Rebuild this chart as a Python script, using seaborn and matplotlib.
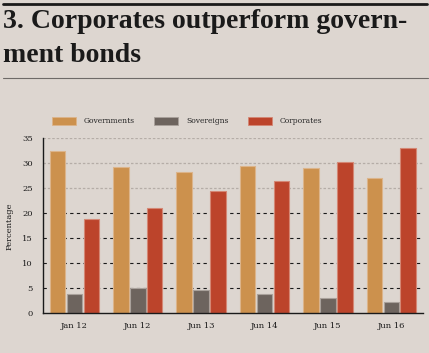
import numpy as np
import pandas as pd
import matplotlib
matplotlib.use("Agg")
import matplotlib.pyplot as plt
import seaborn as sns
from matplotlib.lines import Line2D

periods = ["Jan 12", "Jun 12", "Jun 13", "Jun 14", "Jun 15", "Jun 16"]
governments = [32.5, 29.3, 28.2, 29.5, 29.0, 27.1]
sovereigns = [3.9, 5.1, 4.6, 3.8, 3.1, 2.3]
corporates = [18.8, 21.1, 24.5, 26.5, 30.3, 33.0]
series = ["Governments", "Sovereigns", "Corporates"]

bg = "#ddd6d0"
palette = {"Governments": "#cc914d", "Sovereigns": "#6d645e", "Corporates": "#bc442b"}
edges = {"Governments": "#dcb48a", "Sovereigns": "#a9a19b", "Corporates": "#d48774"}

df = pd.DataFrame({
    "period": periods * 3,
    "value": governments + sovereigns + corporates,
    "series": [s for s in series for _ in periods],
})

sns.set_style("white")
plt.rcParams["font.family"] = ["DejaVu Serif"]

fig = plt.figure(figsize=(4.29, 3.53), dpi=100, facecolor=bg)
ax = fig.add_axes([0.0995, 0.1124, 0.8865, 0.4958])
ax.set_facecolor(bg)

sns.barplot(data=df, x="period", y="value", hue="series", palette=palette,
            order=periods, hue_order=series, width=0.8, gap=0.08, ax=ax,
            legend=False, linewidth=0.8, saturation=1)
for cont, s in zip(ax.containers, series):
    for bar in cont:
        bar.set_edgecolor(edges[s])

ax.set_xlim(-0.5, 5.5)
ax.set_ylim(0, 35)
ax.set_yticks(range(0, 36, 5))
for y in [25, 30, 35]:
    ax.axhline(y, color="#b5ada7", lw=0.9, ls=(0, (2, 1.5)), zorder=0)
for y in [5, 10, 15, 20]:
    ax.axhline(y, color="#1a1a1a", lw=0.8, ls=(0, (3, 3)), zorder=0)

for sp in ["top", "right"]:
    ax.spines[sp].set_visible(False)
for sp in ["left", "bottom"]:
    ax.spines[sp].set_color("#1a1a1a")
    ax.spines[sp].set_linewidth(1.0)
ax.tick_params(axis="both", length=0, labelsize=6, colors="#1a1a1a", pad=6)
ax.tick_params(axis="y", pad=7)
ax.set_xlabel("")
ax.set_ylabel("Percentage", fontsize=6, color="#1a1a1a", labelpad=6)

handles = [plt.Rectangle((0, 0), 1, 1, facecolor=palette[s], edgecolor=edges[s], lw=0.6)
           for s in series]
fig.legend(handles, series, ncol=3, frameon=False, fontsize=5.5,
           loc="center left", bbox_to_anchor=(0.105, 0.657),
           handlelength=3.1, handleheight=1.3, columnspacing=2.5, handletextpad=1.1)

fig.text(3 / 429, 1 - 28 / 353, "3. Corporates outperform govern-",
         fontsize=20, fontweight="bold", family=["Liberation Serif"],
         color="#1a1a1a", va="baseline", ha="left")
fig.text(3 / 429, 1 - 62 / 353, "ment bonds",
         fontsize=20, fontweight="bold", family=["Liberation Serif"],
         color="#1a1a1a", va="baseline", ha="left")
fig.add_artist(Line2D([3 / 429, 427 / 429], [1 - 4 / 353, 1 - 4 / 353],
                      transform=fig.transFigure, color="#1a1a1a", lw=2))
fig.add_artist(Line2D([3 / 429, 428 / 429], [1 - 78 / 353, 1 - 78 / 353],
                      transform=fig.transFigure, color="#6e6a67", lw=0.8))

fig.savefig("out.png", dpi=100, facecolor=bg)
